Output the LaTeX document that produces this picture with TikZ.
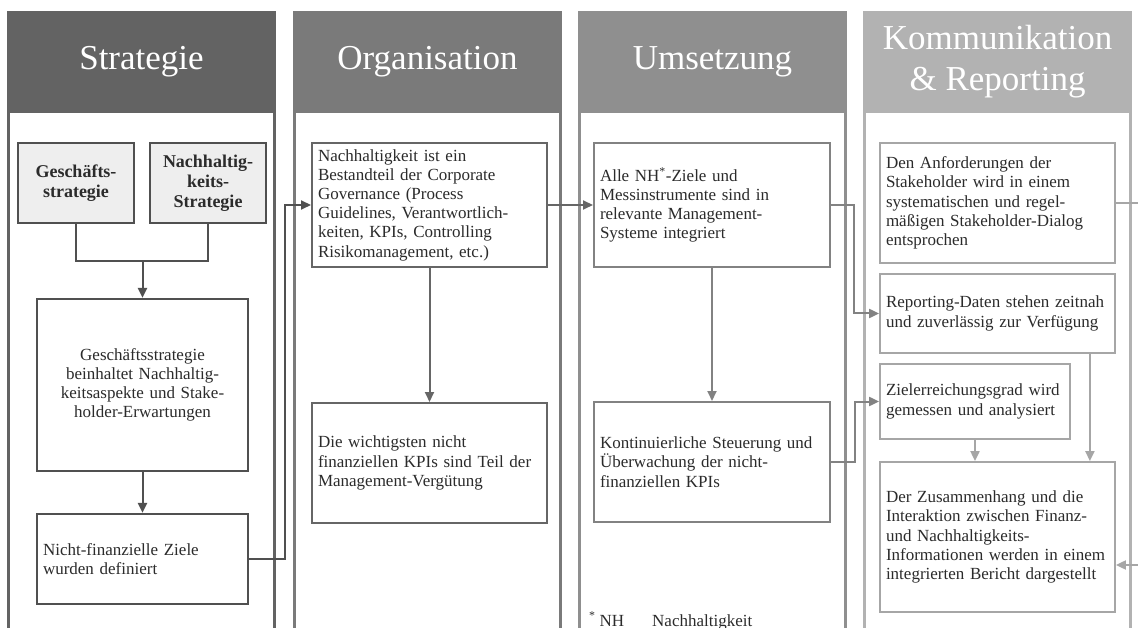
\documentclass[tikz,border=0pt]{standalone}
\usepackage{fontspec}
\setmainfont{Liberation Serif}
\usetikzlibrary{arrows.meta, positioning, calc}

\definecolor{hdrA}{HTML}{636363}
\definecolor{hdrB}{HTML}{7A7A7A}
\definecolor{hdrC}{HTML}{8F8F8F}
\definecolor{hdrD}{HTML}{B2B2B2}
\definecolor{lineA}{HTML}{505050}
\definecolor{lineB}{HTML}{666666}
\definecolor{lineC}{HTML}{828282}
\definecolor{lineD}{HTML}{A6A6A6}
\definecolor{inkgray}{HTML}{2B2B2B}
\definecolor{boxfill}{HTML}{EEEEEE}

\newcommand{\boxfont}{\fontsize{17}{19.2}\selectfont}
\newcommand{\hdrfont}{\fontsize{35}{41}\selectfont}

\tikzstyle{header}  = [rectangle, minimum width=269pt, minimum height=102pt, inner sep=0pt,
                       text=white, align=center, font=\hdrfont]
\tikzstyle{panel}   = [line width=3pt]
\tikzstyle{topic}   = [rectangle, draw=lineA, line width=2.2pt, fill=boxfill, inner sep=0pt,
                       align=center, text=inkgray, font=\fontsize{18}{20}\selectfont\bfseries]
\tikzstyle{stepbox} = [rectangle, line width=2pt, fill=white, inner xsep=6pt, inner ysep=0pt,
                       align=left, text=inkgray, font=\boxfont]
\tikzstyle{arrow}   = [line width=2pt, -{Triangle[length=10pt,width=9pt]}]
\tikzstyle{link}    = [line width=2pt]

\begin{document}
\begin{tikzpicture}[x=1pt, y=-1pt]

  \useasboundingbox (0,0) rectangle (1138,628);
  \coordinate (bot) at (0,628);

  % Column heads
  \node (hStrat) [header, fill=hdrA] at (141.5,62) {Strategie};
  \node (hOrg)   [header, fill=hdrB] at (427.5,62) {Organisation};
  \node (hUms)   [header, fill=hdrC] at (712.5,62) {Umsetzung};
  \node (hKom)   [header, fill=hdrD] at (997.5,62) {Kommunikation\\\& Reporting};

  % Column panels
  \draw[panel, color=hdrA] ([xshift=1.5pt]hStrat.south west) -- ([xshift=1.5pt]hStrat.south west |- bot)
                           ([xshift=-1.5pt]hStrat.south east) -- ([xshift=-1.5pt]hStrat.south east |- bot);
  \draw[panel, color=hdrB] ([xshift=1.5pt]hOrg.south west) -- ([xshift=1.5pt]hOrg.south west |- bot)
                           ([xshift=-1.5pt]hOrg.south east) -- ([xshift=-1.5pt]hOrg.south east |- bot);
  \draw[panel, color=hdrC] ([xshift=1.5pt]hUms.south west) -- ([xshift=1.5pt]hUms.south west |- bot)
                           ([xshift=-1.5pt]hUms.south east) -- ([xshift=-1.5pt]hUms.south east |- bot);
  \draw[panel, color=hdrD] ([xshift=1.5pt]hKom.south west) -- ([xshift=1.5pt]hKom.south west |- bot)
                           ([xshift=-1.5pt]hKom.south east) -- ([xshift=-1.5pt]hKom.south east |- bot);

  % Strategie
  \node (gs)  [topic, minimum width=116pt, minimum height=80pt] at (76,183) {Geschäfts-\\strategie};
  \node (ns)  [topic, minimum width=116pt, minimum height=80pt] at (208,183) {Nachhaltig-\\keits-\\Strategie};
  \node (gsn) [stepbox, draw=lineA, line width=2.2pt, minimum width=211pt, minimum height=172pt,
               text width=199pt, align=center] at (142.5,385)
              {Geschäftsstrategie\\beinhaltet Nachhaltig-\\keitsaspekte und Stake-\\holder-Erwartungen};
  \node (nfz) [stepbox, draw=lineA, line width=2.2pt, minimum width=211pt, minimum height=90pt,
               text width=199pt] at (142.5,559) {Nicht-finanzielle Ziele\\wurden definiert};

  % Organisation
  \node (ob1) [stepbox, draw=lineB, minimum width=235pt, minimum height=124pt, text width=223pt] at (429.5,205)
              {Nachhaltigkeit ist ein\\Bestandteil der Corporate\\Governance (Process\\Guidelines, Verantwortlich-\\keiten, KPIs, Controlling\\Risikomanagement, etc.)};
  \node (ob2) [stepbox, draw=lineB, minimum width=235pt, minimum height=120pt, text width=223pt] at (429.5,463)
              {Die wichtigsten nicht\\finanziellen KPIs sind Teil der\\Management-Vergütung};

  % Umsetzung
  \node (ub1) [stepbox, draw=lineC, minimum width=236pt, minimum height=124pt, text width=224pt] at (712,205)
              {Alle NH\textsuperscript{*}-Ziele und\\Messinstrumente sind in\\relevante Management-\\Systeme integriert};
  \node (ub2) [stepbox, draw=lineC, minimum width=236pt, minimum height=120pt, text width=224pt] at (712,462)
              {Kontinuierliche Steuerung und\\Überwachung der nicht-\\finanziellen KPIs};
  \node (fn)  [anchor=base west, inner sep=0pt, text=inkgray, font=\boxfont] at (589,626)
              {\textsuperscript{*}\hspace{4pt}NH\hspace{28pt}Nachhaltigkeit};

  % Kommunikation & Reporting
  \node (kb1) [stepbox, draw=lineD, line width=1.8pt, minimum width=235pt, minimum height=120pt, text width=223pt] at (997.5,203)
              {Den Anforderungen der\\Stakeholder wird in einem\\systematischen und regel-\\mäßigen Stakeholder-Dialog\\entsprochen};
  \node (kb2) [stepbox, draw=lineD, line width=1.8pt, minimum width=235pt, minimum height=79pt, text width=223pt] at (997.5,313.5)
              {Reporting-Daten stehen zeitnah\\und zuverlässig zur Verfügung};
  \node (kb3) [stepbox, draw=lineD, line width=1.8pt, minimum width=190pt, minimum height=75pt, text width=178pt] at (975,401.5)
              {Zielerreichungsgrad wird\\gemessen und analysiert};
  \node (kb4) [stepbox, draw=lineD, line width=1.8pt, minimum width=235pt, minimum height=150pt, text width=223pt] at (997.5,537)
              {Der Zusammenhang und die\\Interaktion zwischen Finanz-\\und Nachhaltigkeits-\\Informationen werden in einem\\integrierten Bericht dargestellt};

  % Strategie flow
  \coordinate (join) at (142.5,261);
  \draw[link, color=lineA] (gs.south) |- (join) -| (ns.south);
  \draw[arrow, color=lineA] (join) -- (gsn);
  \draw[arrow, color=lineA] (gsn) -- (nfz);
  % Strategie -> Organisation
  \draw[arrow, color=lineA] (nfz.east) -- ++(36,0) |- (ob1.west);

  % Organisation flow
  \draw[arrow, color=lineB] (ob1) -- (ob2);
  \draw[arrow, color=lineB] (ob1.east) -- (ub1.west);

  % Umsetzung flow
  \draw[arrow, color=lineC] (ub1) -- (ub2);
  \draw[arrow, color=lineC] (ub1.east) -- ++(23,0) |- (kb2.west);
  \draw[arrow, color=lineC] (ub2.east) -- ++(24,0) |- (kb3.west);

  % Kommunikation flow
  \draw[arrow, color=lineD] (kb3) -- (kb3 |- kb4.north);
  \draw[arrow, color=lineD] ([xshift=-26pt]kb2.south east) -- ([xshift=-26pt]kb4.north east);
  \coordinate (outTop) at (1138,203);
  \coordinate (outBot) at (1138,565);
  \draw[link, color=lineD] (kb1.east) -- (outTop);
  \draw[arrow, color=lineD] (outBot) -- (kb4.east |- outBot);

\end{tikzpicture}
\end{document}
